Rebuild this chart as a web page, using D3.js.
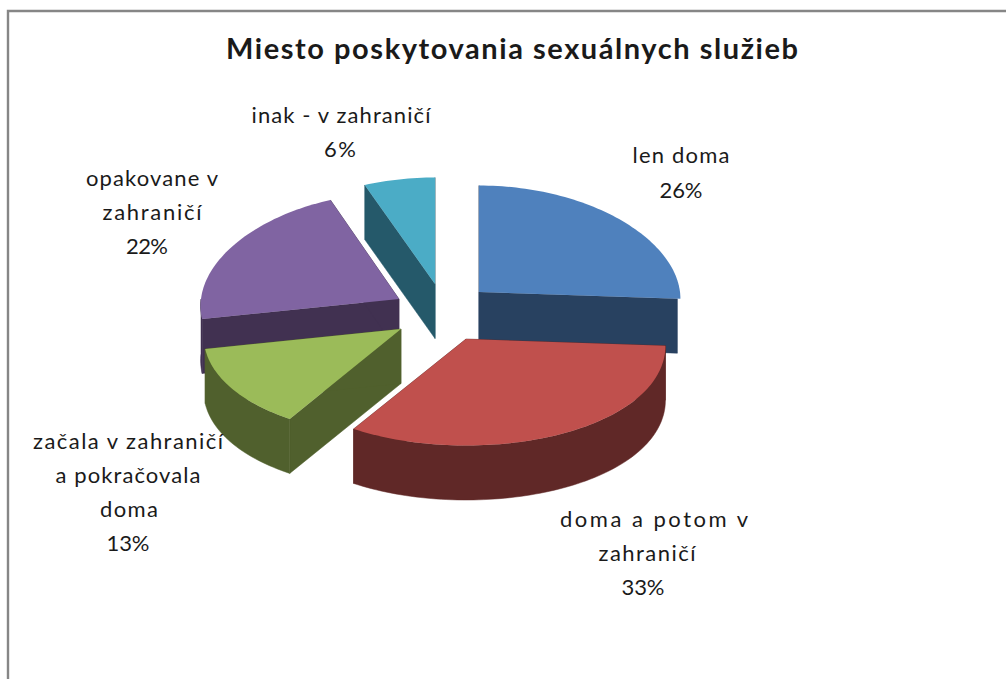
<!DOCTYPE html>
<html><head><meta charset="utf-8">
<script src="https://cdn.jsdelivr.net/npm/d3@7/dist/d3.min.js"></script>
<style>html,body{margin:0;background:#fff}svg{display:block}text{font-family:Lato,"Open Sans",sans-serif;fill:#1a1a1a}</style>
</head><body><div id="c"></div>
<script>
const chartTitle = "Miesto poskytovania sexuálnych služieb";
const categories = ["len doma","doma a potom v zahraničí","začala v zahraničí a pokračovala doma","opakovane v zahraničí","inak - v zahraničí"];
const values = [26,33,13,22,6];
const topColors = ["#4F81BD","#C0504D","#9BBB59","#8064A2","#4BACC6"];
const wallColors = ["#284160","#602827","#50602D","#413151","#25596A"];
const labelLines = [["len doma"],["doma a potom v","zahraničí"],["začala v zahraničí","a pokračovala","doma"],["opakovane v","zahraničí"],["inak - v zahraničí"]];

// layout: exploded slice origins and radii, label anchors (centre x, first baseline), line widths
const sliceOrigins = [[479,292],[466,339],[401,329],[399,299],[435,284]];
const sliceRX = [201,199,197,198,203];
const wallInset = [3,0,0,0,0];
const labelPos = [
  [[681,163,97],[681,198,43]],
  [[654,527,188],[647,561,97],[643,595,43]],
  [[128,449,190],[128,483,145],[129,517,58],[128,551,43]],
  [[152,186,132],[152,220,99],[147,254,42]],
  [[341,123,179],[340,157,32]]
];
const W=1006,H=679,RY=106.5,DEPTH=54.5,PERSP=0.0006;

const svg=d3.select("#c").append("svg").attr("width",W).attr("height",H);
svg.append("path").attr("d",`M8,${H}V11H${W}`).attr("fill","none").attr("stroke","#868686").attr("stroke-width",2.4);
svg.append("text").attr("x",512).attr("y",59).attr("text-anchor","middle").attr("font-size",29).attr("font-weight",700)
  .attr("textLength",572).attr("lengthAdjust","spacing").text(chartTitle);

const arcs=d3.pie().sort(null).value(d=>d)(values);
// projects pie angle onto the tilted ellipse
const proj=(a,o,rx,d=0)=>{const y=-Math.cos(a)*RY;return [o[0]+Math.sin(a)*rx*(1+PERSP*y),o[1]+y+d];};
const line=d3.line();
const sweep=(a0,a1,o,rx,d)=>{const n=Math.max(2,Math.ceil((a1-a0)*40));return d3.range(n+1).map(i=>proj(a0+(a1-a0)*i/n,o,rx,d));};

[4,0,3,2,1].forEach(i=>{
  const s=arcs[i],o=sliceOrigins[i],rx=sliceRX[i],wr=rx-wallInset[i],g=svg.append("g");
  const wall=pts=>g.append("path").attr("d",line(pts)+"Z").attr("fill",wallColors[i]).attr("stroke",wallColors[i]).attr("stroke-width",.5);
  const ap=[o[0],o[1]],apD=[o[0],o[1]+DEPTH];
  [s.startAngle,s.endAngle].forEach(a=>wall([ap,proj(a,o,wr),proj(a,o,wr,DEPTH),apD]));
  // outer wall: only the front half of the ellipse is visible
  const a0=Math.max(s.startAngle,Math.PI/2),a1=Math.min(s.endAngle,Math.PI*1.5);
  if(a1>a0 && i!==0) wall([...sweep(a0,a1,o,wr,0),...sweep(a0,a1,o,wr,DEPTH).reverse()]);
  g.append("path").attr("d",line([ap,...sweep(s.startAngle,s.endAngle,o,rx,0)])+"Z").attr("fill",topColors[i]);
});

labelLines.forEach((lines,i)=>{
  const rows=[...lines,values[i]+"%"];
  rows.forEach((t,j)=>{
    const p=labelPos[i][j];
    svg.append("text").attr("x",p[0]).attr("y",p[1]).attr("text-anchor","middle").attr("font-size",22)
      .attr("textLength",p[2]).attr("lengthAdjust","spacing").text(t);
  });
});
</script></body></html>
